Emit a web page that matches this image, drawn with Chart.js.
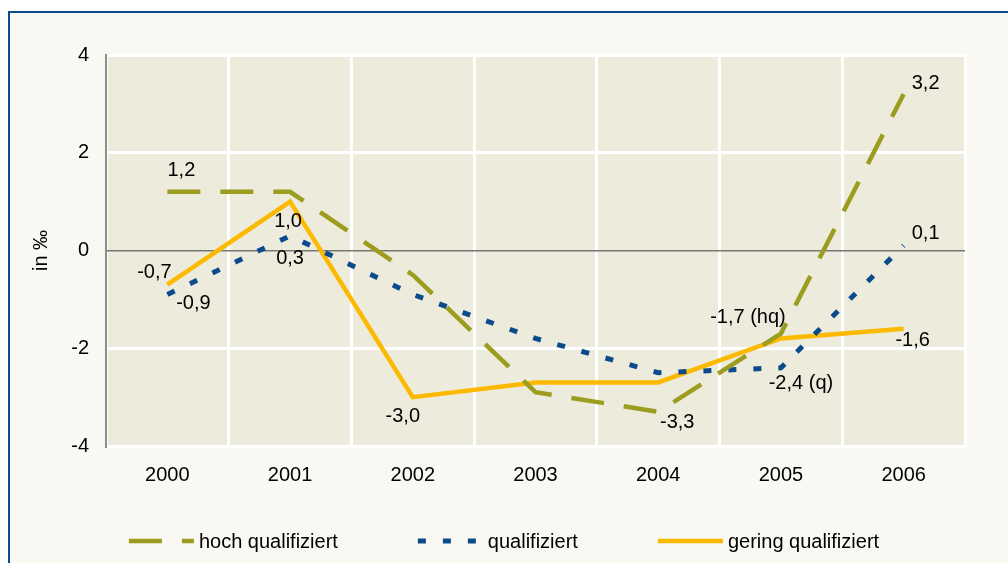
<!DOCTYPE html>
<html lang="de">
<head>
<meta charset="utf-8">
<title>Veränderung nach Qualifikation</title>
<script src="https://cdn.jsdelivr.net/npm/chart.js@4.4.0/dist/chart.umd.min.js"></script>
<style>
  html, body { margin: 0; padding: 0; background: #fff; }
  body { width: 1008px; height: 563px; position: relative; overflow: hidden; }
  #frame {
    position: absolute; left: 8px; top: 11px; width: 1100px; height: 600px;
    background: #f9f8f3;
    border-top: 2px solid #0d4a8c;
    border-left: 2px solid #0d4a8c;
  }
  #wrap { position: absolute; left: 0; top: 0; width: 1008px; height: 563px; }
</style>
</head>
<body>
<div id="frame"></div>
<div id="wrap"><canvas id="chart"></canvas></div>
<script>
const years = ["2000", "2001", "2002", "2003", "2004", "2005", "2006"];
const hochQualifiziert = [1.2, 1.2, -0.5, -2.9, -3.3, -1.7, 3.2];
const qualifiziert = [-0.9, 0.3, -0.9, -1.8, -2.5, -2.4, 0.1];
const geringQualifiziert = [-0.7, 1.0, -3.0, -2.7, -2.7, -1.8, -1.6];
const yTicks = [-4, -2, 0, 2, 4];

const FONT = '"Liberation Sans", Arial, sans-serif';

// which points get a value label, and where it sits relative to the point
const valueLabels = [
    { series: 0, index: 0, dx: 14, dy: -21 },
    { series: 0, index: 4, dx: 19, dy: 11 },
    { series: 0, index: 5, dx: -33, dy: -16, suffix: " (hq)" },
    { series: 0, index: 6, dx: 22, dy: -11 },
    { series: 1, index: 0, dx: 26, dy: 9 },
    { series: 1, index: 1, dx: 0, dy: 23 },
    { series: 1, index: 5, dx: 20, dy: 16, suffix: " (q)" },
    { series: 1, index: 6, dx: 22, dy: -12 },
    { series: 2, index: 0, dx: -13, dy: -12 },
    { series: 2, index: 1, dx: -2, dy: 20 },
    { series: 2, index: 2, dx: -10, dy: 19 },
    { series: 2, index: 6, dx: 9, dy: 12 }
];

function fmt(v) {
    return v.toFixed(1).replace(".", ",");
}

// beige plot background
const plotBackground = {
    id: "plotBackground",
    beforeDraw(chart) {
        const a = chart.chartArea;
        const ctx = chart.ctx;
        ctx.save();
        ctx.fillStyle = "#ecebdc";
        ctx.fillRect(a.left, a.top, a.right - a.left, a.bottom - a.top);
        ctx.restore();
    }
};

// value labels next to the points
const pointValues = {
    id: "pointValues",
    afterDatasetsDraw(chart) {
        const ctx = chart.ctx;
        ctx.save();
        ctx.font = "20px " + FONT;
        ctx.fillStyle = "#000";
        ctx.textAlign = "center";
        ctx.textBaseline = "middle";
        valueLabels.forEach(l => {
            const pt = chart.getDatasetMeta(l.series).data[l.index];
            const v = chart.data.datasets[l.series].data[l.index];
            ctx.fillText(fmt(v) + (l.suffix || ""), pt.x + l.dx, pt.y + l.dy);
        });
        ctx.restore();
    }
};

// legend row at the bottom, line samples keep the dataset dash
const bottomLegend = {
    id: "bottomLegend",
    afterDraw(chart) {
        const ctx = chart.ctx;
        const sets = chart.data.datasets;
        const sample = 65, gapText = 5, gapItem = 80, y = 541;
        ctx.save();
        ctx.font = "20px " + FONT;
        const widths = sets.map(ds => sample + gapText + ctx.measureText(ds.label).width);
        const total = widths.reduce((a, b) => a + b, 0) + gapItem * (sets.length - 1);
        let x = (chart.width - total) / 2;
        sets.forEach((ds, i) => {
            ctx.beginPath();
            ctx.setLineDash(ds.borderDash || []);
            ctx.lineWidth = ds.borderWidth;
            ctx.strokeStyle = ds.borderColor;
            ctx.moveTo(x, y);
            ctx.lineTo(x + sample, y);
            ctx.stroke();
            ctx.setLineDash([]);
            ctx.fillStyle = "#000";
            ctx.textAlign = "left";
            ctx.textBaseline = "middle";
            ctx.fillText(ds.label, x + sample + gapText, y + 1);
            x += widths[i] + gapItem;
        });
        ctx.restore();
    }
};

const ctx = document.getElementById("chart").getContext("2d");

new Chart(ctx, {
    type: "line",
    data: {
        labels: years,
        datasets: [
            {
                label: "hoch qualifiziert",
                data: hochQualifiziert,
                borderColor: "#9c9c1f",
                borderWidth: 4.5,
                borderDash: [33, 20],
                pointRadius: 0,
                tension: 0
            },
            {
                label: "qualifiziert",
                data: qualifiziert,
                borderColor: "#0b4a8b",
                borderWidth: 5,
                borderDash: [8, 17],
                pointRadius: 0,
                tension: 0
            },
            {
                label: "gering qualifiziert",
                data: geringQualifiziert,
                borderColor: "#fbb900",
                borderWidth: 4.5,
                pointRadius: 0,
                tension: 0
            }
        ]
    },
    options: {
        responsive: true,
        maintainAspectRatio: false,
        animation: false,
        layout: { padding: { left: 0, right: 43, top: 55, bottom: 0 } },
        plugins: {
            legend: { display: false },
            tooltip: { enabled: false }
        },
        scales: {
            x: {
                offset: true,
                grid: {
                    offset: true,
                    color: "#ffffff",
                    lineWidth: 3,
                    drawTicks: false
                },
                border: { display: false },
                ticks: {
                    color: "#000",
                    font: { family: FONT, size: 20 },
                    padding: 17,
                    maxRotation: 0
                },
                afterFit(scale) { scale.height = 117; }
            },
            y: {
                min: -4,
                max: 4,
                afterBuildTicks(scale) {
                    scale.ticks = yTicks.map(v => ({ value: v }));
                },
                grid: {
                    color: c => (c.tick && c.tick.value === 0) ? "#777777" : "#ffffff",
                    lineWidth: c => (c.tick && c.tick.value === 0) ? 1.5 : 3,
                    drawTicks: false
                },
                border: { color: "#8c8c8c", width: 2 },
                ticks: {
                    color: "#000",
                    font: { family: FONT, size: 20 },
                    padding: 17
                },
                title: {
                    display: true,
                    text: "in ‰",
                    color: "#000",
                    font: { family: FONT, size: 20 },
                    padding: { top: 29, bottom: 0 }
                },
                afterFit(scale) { scale.width = 106; }
            }
        }
    },
    plugins: [plotBackground, pointValues, bottomLegend]
});
</script>
</body>
</html>
